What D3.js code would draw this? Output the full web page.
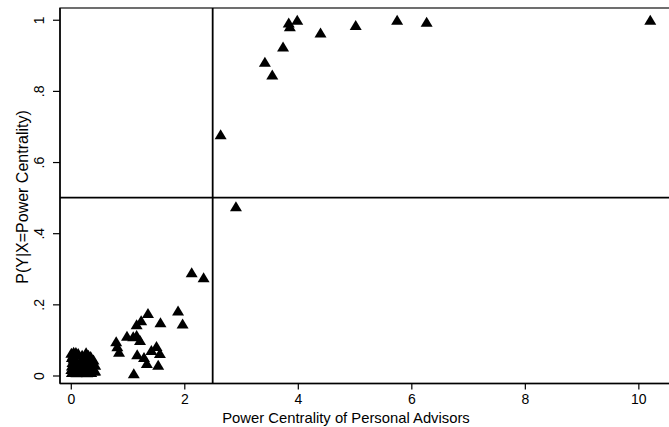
<!DOCTYPE html>
<html>
<head>
<meta charset="utf-8">
<script src="https://cdnjs.cloudflare.com/ajax/libs/d3/7.8.5/d3.min.js"></script>
<style>
  body { margin: 0; background: #fff; }
  text { font-family: "Liberation Sans", Arial, sans-serif; fill: #000; }
</style>
</head>
<body>
<script>
'use strict';

// power centrality (x) and P(Y|X) (y)
const lowX = [0.01, 0.05, 0.09, 0.13, 0.27, 0.31,
  0.02, 0.05, 0.21, 0.24, 0.34,
  0.03, 0.22, 0.28, 0.40, 0.43,
  0.02, 0.06, 0.11, 0.15, 0.19, 0.30, 0.39,
  0.01, 0.04, 0.08, 0.12, 0.17, 0.23, 0.27, 0.33, 0.41,
  0.02, 0.06, 0.10, 0.15, 0.20, 0.25, 0.29, 0.36, 0.43,
  0.04, 0.20, 0.35, 0.38, 0.26, 0.30, 0.18, 0.07, 0.12, 0.25, 0.34, 0.09, 0.22, 0.31];
const lowY = [0.064, 0.067, 0.066, 0.063, 0.065, 0.058,
  0.052, 0.048, 0.050, 0.055, 0.045,
  0.038, 0.038, 0.040, 0.045, 0.030,
  0.028, 0.030, 0.026, 0.029, 0.031, 0.027, 0.022,
  0.018, 0.020, 0.017, 0.019, 0.020, 0.018, 0.021, 0.016, 0.014,
  0.010, 0.012, 0.009, 0.011, 0.010, 0.012, 0.009, 0.010, 0.014,
  0.058, 0.058, 0.055, 0.040, 0.050, 0.045, 0.040, 0.040, 0.035, 0.030, 0.030, 0.028, 0.026, 0.036];

const midX = [0.80, 0.82, 0.85, 0.99, 1.10, 1.16, 1.22, 1.11, 1.16, 1.24, 1.36,
  1.17, 1.29, 1.34, 1.42, 1.51, 1.57, 1.54, 1.58, 1.89, 1.97, 2.13, 2.34];
const midY = [0.096, 0.082, 0.067, 0.112, 0.110, 0.114, 0.100, 0.006, 0.144, 0.155, 0.176,
  0.060, 0.052, 0.035, 0.072, 0.083, 0.063, 0.030, 0.150, 0.183, 0.146, 0.290, 0.276];

const highX = [2.64, 2.91, 3.42, 3.55, 3.74, 3.84, 3.86, 3.99, 4.40, 5.02, 5.75, 6.27, 10.21];
const highY = [0.678, 0.476, 0.882, 0.846, 0.925, 0.992, 0.982, 1.0, 0.964, 0.985, 1.0, 0.994, 1.0];

const xTicks = [0, 2, 4, 6, 8, 10];
const yTicks = [0, 0.2, 0.4, 0.6, 0.8, 1];
const xCut = 2.5;
const yCut = 0.5;

(function() {

  let svgContainer = "";

  window.onload = function() {
    svgContainer = d3.select('body')
      .append('svg')
      .attr('width', 669)
      .attr('height', 427);

    let data = [];
    [[lowX, lowY], [midX, midY], [highX, highY]].forEach(function(g) {
      g[0].forEach((x, i) => data.push({ x: x, y: g[1][i] }));
    });

    let map = drawAxes();
    plotData(map, data);
    makeLabels();
  }

  // draw frame, axes, ticks and the two cut lines
  function drawAxes() {
    let xScale = d3.scaleLinear()
      .domain([-0.19, 10.54])
      .range([60, 669]);

    let yScale = d3.scaleLinear()
      .domain([-0.0225, 1.033])
      .range([383.5, 8]);

    // top border of plot region (right side runs off the picture)
    svgContainer.append('rect')
      .attr('x', 60)
      .attr('y', 8)
      .attr('width', 620)
      .attr('height', 375.5)
      .attr('fill', 'none')
      .attr('stroke', '#222')
      .attr('stroke-width', 1.3);

    let xAxis = d3.axisBottom(xScale)
      .tickValues(xTicks)
      .tickFormat(d3.format('d'))
      .tickSize(6)
      .tickPadding(4);
    let gx = svgContainer.append('g')
      .attr('transform', 'translate(0, 383.5)')
      .call(xAxis);
    gx.select('.domain').remove();
    gx.selectAll('line').attr('stroke', '#000').attr('stroke-width', 1.2);
    gx.selectAll('text')
      .attr('font-size', '14px')
      .attr('dy', '0.75em');

    let yAxis = d3.axisLeft(yScale)
      .tickValues(yTicks)
      .tickFormat(d => d == 0 ? '0' : d == 1 ? '1' : d3.format('.1f')(d).replace('0.', '.'))
      .tickSize(7);
    let gy = svgContainer.append('g')
      .attr('transform', 'translate(60, 0)')
      .call(yAxis);
    gy.select('.domain').remove();
    gy.selectAll('line').attr('stroke', '#000').attr('stroke-width', 1.2);
    // rotated tick labels, reading bottom to top
    gy.selectAll('text')
      .attr('x', null)
      .attr('dy', null)
      .attr('font-size', '14px')
      .attr('text-anchor', 'middle')
      .attr('transform', 'translate(-16, 0)rotate(-90)');

    // axis lines
    svgContainer.append('line')
      .attr('x1', 60).attr('x2', 669)
      .attr('y1', 383.5).attr('y2', 383.5)
      .attr('stroke', '#000').attr('stroke-width', 1.5);
    svgContainer.append('line')
      .attr('x1', 60).attr('x2', 60)
      .attr('y1', 8).attr('y2', 383.5)
      .attr('stroke', '#000').attr('stroke-width', 1.5);

    // cut lines
    svgContainer.append('line')
      .attr('x1', xScale(xCut)).attr('x2', xScale(xCut))
      .attr('y1', 8).attr('y2', 383.5)
      .attr('stroke', '#000').attr('stroke-width', 1.8);
    svgContainer.append('line')
      .attr('x1', 60).attr('x2', 669)
      .attr('y1', yScale(yCut)).attr('y2', yScale(yCut))
      .attr('stroke', '#000').attr('stroke-width', 1.8);

    return { x: xScale, y: yScale };
  }

  // solid triangles centred on their bounding box
  function plotData(map, data) {
    let tri = {
      draw: function(ctx) {
        ctx.moveTo(0, -5);
        ctx.lineTo(6, 5);
        ctx.lineTo(-6, 5);
        ctx.closePath();
      }
    };

    svgContainer.selectAll('.dot')
      .data(data)
      .enter()
      .append('path')
        .attr('class', 'dot')
        .attr('d', d3.symbol().type(tri))
        .attr('transform', d => 'translate(' + map.x(d.x) + ',' + map.y(d.y) + ')')
        .attr('fill', '#000');
  }

  function makeLabels() {
    svgContainer.append('text')
      .attr('x', 346)
      .attr('y', 423)
      .attr('text-anchor', 'middle')
      .style('font-size', '14.8px')
      .text('Power Centrality of Personal Advisors');

    svgContainer.append('text')
      .attr('transform', 'translate(28, 197)rotate(-90)')
      .attr('text-anchor', 'middle')
      .style('font-size', '16px')
      .text('P(Y|X=Power Centrality)');
  }
})();
</script>
</body>
</html>
